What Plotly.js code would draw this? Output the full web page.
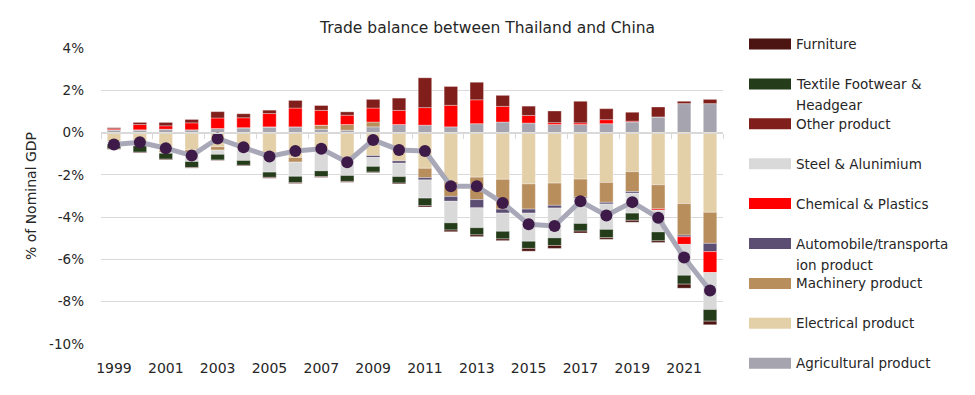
<!DOCTYPE html>
<html>
<head>
<meta charset="utf-8">
<script src="https://cdn.plot.ly/plotly-3.0.1.min.js"></script>
<style>html,body{margin:0;padding:0;background:#fff;}#chart{width:975px;height:395px;}</style>
</head>
<body>
<div id="chart"></div>
<script>
// ---- DATA (share of nominal GDP, %) ----
const years = [1999,2000,2001,2002,2003,2004,2005,2006,2007,2008,2009,2010,2011,2012,2013,2014,2015,2016,2017,2018,2019,2020,2021,2022];
const agricultural = [0.13,0.13,0.16,0.13,0.19,0.23,0.27,0.27,0.16,0.11,0.27,0.38,0.35,0.27,0.42,0.50,0.45,0.38,0.38,0.42,0.50,0.74,1.37,1.37];
const electrical   = [-0.43,-0.60,-0.85,-0.82,-0.67,-0.82,-0.98,-1.18,-0.82,-1.29,-1.09,-1.34,-1.69,-2.32,-2.11,-2.21,-2.43,-2.39,-2.20,-2.36,-1.85,-2.47,-3.36,-3.77];
const machinery    = [0,0,-0.08,-0.19,-0.16,0,0,-0.22,0.19,0.27,0.23,0,-0.44,-0.70,-1.06,-1.41,-1.19,-1.05,-0.85,-0.94,-0.94,-1.14,-1.49,-1.47];
const automobile   = [0,0,0,0,0,0,0,0,0,0,-0.09,-0.11,-0.11,-0.23,-0.39,-0.19,-0.19,-0.13,-0.06,-0.08,-0.08,0,-0.08,-0.39];
const chemical     = [0.05,0.25,0.16,0.33,0.50,0.47,0.63,0.89,0.70,0.44,0.66,0.67,0.83,1.02,1.13,0.74,0.36,0.09,0.08,0.19,0.04,-0.06,-0.36,-0.99];
const steel        = [-0.12,-0.03,-0.05,-0.36,-0.20,-0.50,-0.89,-0.67,-0.99,-0.74,-0.42,-0.63,-0.86,-1.02,-0.94,-0.86,-1.33,-1.41,-1.19,-1.20,-0.94,-1.03,-1.46,-1.75];
const other        = [0.05,0.10,0.16,0.16,0.30,0.19,0.16,0.36,0.23,0.16,0.41,0.58,1.41,0.89,0.83,0.52,0.44,0.55,1.02,0.52,0.42,0.47,0.11,0.20];
const textile      = [-0.22,-0.30,-0.28,-0.28,-0.27,-0.23,-0.25,-0.30,-0.27,-0.28,-0.27,-0.31,-0.36,-0.34,-0.34,-0.36,-0.34,-0.36,-0.36,-0.39,-0.34,-0.42,-0.42,-0.55];
const furniture    = [-0.02,-0.03,-0.03,-0.03,-0.02,-0.03,-0.04,-0.04,-0.04,-0.04,-0.03,-0.04,-0.06,-0.08,-0.08,-0.08,-0.13,-0.14,-0.09,-0.08,-0.09,-0.08,-0.19,-0.17];
const tradeBalance = [-0.56,-0.46,-0.74,-1.09,-0.28,-0.69,-1.13,-0.87,-0.77,-1.40,-0.35,-0.82,-0.87,-2.54,-2.54,-3.33,-4.34,-4.42,-3.25,-3.92,-3.29,-4.03,-5.91,-7.47];

// series in stacking order (from zero outwards)
const seriesNames  = ["Agricultural product","Electrical product","Machinery product","Automobile/transportation product","Chemical & Plastics","Steel & Alunimium","Other product","Textile Footwear & Headgear","Furniture"];
const seriesValues = [agricultural, electrical, machinery, automobile, chemical, steel, other, textile, furniture];
const seriesColors = ["#a6a5af","#e3d0a9","#b98e5d","#5c4e72","#ff0000","#d9d9d9","#7f1e1a","#253c1b","#4c1511"];
// legend labels as wrapped in the reference (top to bottom)
const legendLines = [
  ["Furniture"],
  ["Textile Footwear &","Headgear"],
  ["Other product"],
  ["Steel & Alunimium"],
  ["Chemical & Plastics"],
  ["Automobile/transporta","ion product"],
  ["Machinery product"],
  ["Electrical product"],
  ["Agricultural product"]
];
const yTickVals = [-10,-8,-6,-4,-2,0,2,4];
const yTickText = ["-10%","-8%","-6%","-4%","-2%","0%","2%","4%"];
const xTickVals = [1999,2001,2003,2005,2007,2009,2011,2013,2015,2017,2019,2021];

// ---- FIGURE ----
const FONT = "DejaVu Sans, Verdana, sans-serif";
const TXT = "#262626";
const traces = seriesNames.map((n,i)=>({
  type:"bar", name:n, x:years, y:seriesValues[i],
  marker:{color:seriesColors[i], line:{color:"rgba(255,255,255,0.55)", width:0.6}},
  width:0.52, showlegend:false, hoverinfo:"x+y+name"
}));
traces.push({
  type:"scatter", mode:"lines+markers", name:"Trade balance",
  x:years, y:tradeBalance, xaxis:"x2", yaxis:"y",
  line:{color:"#a9a8b8", width:5},
  marker:{color:"#3d1a47", size:12},
  showlegend:false
});

// plot area in pixels
const L=101, R=723, T=48, B=344;
const px = v => (v-L)/(R-L);
const py = v => (B-v)/(B-T);

const shapes = [], annotations = [];
// legend (top to bottom = reverse of stack order)
const legendOrder = seriesNames.map((_,i)=>i).reverse();
legendOrder.forEach((si,k)=>{
  const cy = 44 + k*39.9;
  shapes.push({type:"rect", xref:"paper", yref:"paper",
    x0:px(749), x1:px(791), y0:py(cy+5.5), y1:py(cy-5.5),
    fillcolor:seriesColors[si], line:{width:0}});
  legendLines[k].forEach((t,j)=>{
    annotations.push({xref:"paper", yref:"paper", x:px(794), y:py(cy + j*21.5),
      xanchor:"left", yanchor:"middle", showarrow:false, text:t,
      font:{family:FONT, size:13.5, color:TXT}});
  });
});

const layout = {
  width:975, height:395,
  margin:{l:L, r:975-R, t:T, b:395-B},
  paper_bgcolor:"#fff", plot_bgcolor:"#fff",
  barmode:"relative", bargap:0.48,
  font:{family:FONT, size:13, color:TXT},
  title:{text:"Trade balance between Thailand and China", x:0.5, xref:"container", xanchor:"center",
         y:1-28/395, yref:"container", yanchor:"middle", font:{family:FONT, size:15.5, color:TXT}},
  xaxis:{type:"linear", range:[1998.5,2022.5], tickvals:xTickVals, ticktext:xTickVals.map(String),
         showgrid:false, zeroline:false, showline:false, ticks:"", ticklabelstandoff:14,
         tickfont:{family:FONT, size:14, color:TXT}, fixedrange:true},
  xaxis2:{type:"linear", overlaying:"x", anchor:"free", position:10/14, range:[1998.5,2022.5],
          showgrid:false, zeroline:false, showline:true, linecolor:"#d9d9d9", linewidth:1.5,
          ticks:"outside", ticklen:5, tickcolor:"#d9d9d9", tickwidth:1,
          tickvals:[1998.5,2000.5,2002.5,2004.5,2006.5,2008.5,2010.5,2012.5,2014.5,2016.5,2018.5,2020.5,2022.5],
          showticklabels:false, fixedrange:true},
  yaxis:{range:[-10,4], tickvals:yTickVals, ticktext:yTickText, showgrid:true, gridcolor:"#d9d9d9", gridwidth:1,
         zeroline:false, showline:false, ticks:"", ticklabelstandoff:16,
         tickfont:{family:FONT, size:13.5, color:TXT},
         title:{text:"% of Nominal GDP", standoff:9, font:{family:FONT, size:14, color:TXT}}, fixedrange:true},
  shapes:shapes, annotations:annotations
};

Plotly.newPlot("chart", traces, layout, {displayModeBar:false, staticPlot:true});
</script>
</body>
</html>
